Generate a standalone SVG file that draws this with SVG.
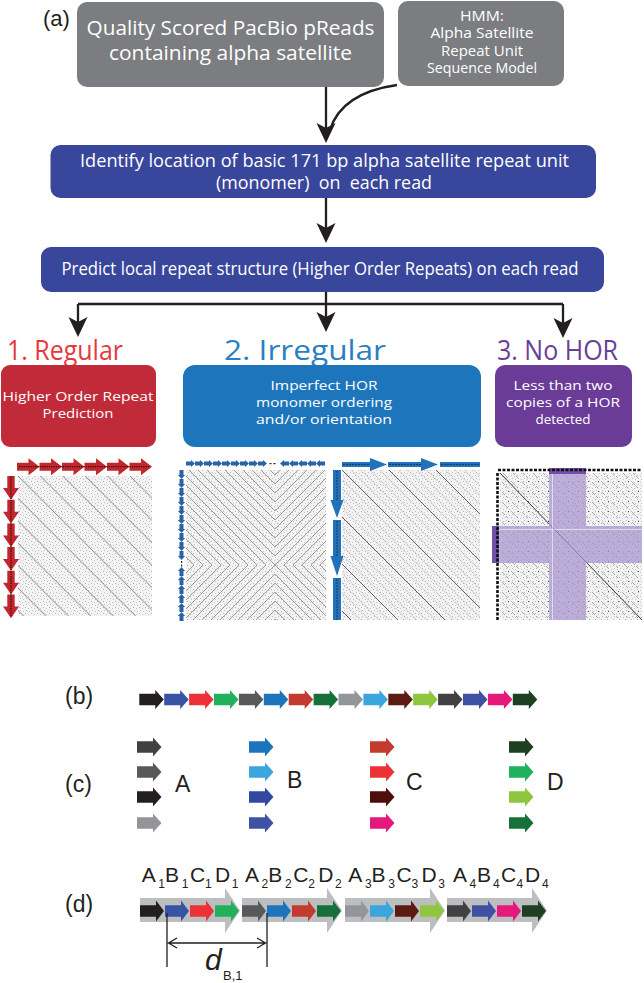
<svg xmlns="http://www.w3.org/2000/svg" xmlns:xlink="http://www.w3.org/1999/xlink" width="644" height="983" viewBox="0 0 644 983">
<style>
.wt{font-family:"Open Sans","Noto Sans",sans-serif;fill:#fff;text-anchor:middle}
.bx{font-size:13.5px}
.ttl{font-family:"Open Sans","Noto Sans",sans-serif}
.lbl{font-family:"Liberation Sans",Arial,sans-serif;fill:#231f20}
.conn{stroke:#231f20;stroke-width:2.3;fill:none}
.head{fill:#231f20}
.dim{stroke:#231f20;stroke-width:1.3;fill:none}
</style>
<defs>
<path id="arr" d="M0,-5.8 H16 V-9.6 L24.5,0 L16,9.6 V5.8 H0 Z"/>
<path id="arrD" d="M0,-5.8 H16 V-10.5 L24,0 L16,10.5 V5.8 H0 Z"/>
<path id="rArrH" d="M0,-4 H11.5 V-8.5 L22.5,0 L11.5,8.5 V4 H0 Z"/>
<path id="rArrV" d="M-3.7,0 V12 H-8 L0,23.7 L8,12 H3.7 V0 Z"/>
<path id="sArrR" d="M0,-2 H5 V-3.6 L9,0 L5,3.6 V2 H0 Z"/>
<path id="sArrL" d="M9,-2 H4 V-3.6 L0,0 L4,3.6 V2 H9 Z"/>
<path id="sArrD" d="M-2,0 V5 H-3.6 L0,9 L3.6,5 H2 V0 Z"/>
<path id="sArrU" d="M-2,9 V4 H-3.6 L0,0 L3.6,4 H2 V9 Z"/>
<pattern id="noise" width="6" height="6" patternUnits="userSpaceOnUse">
<rect width="6" height="6" fill="#f3f3f3"/>
<rect x="1" y="1" width="1" height="1" fill="#b3b3b3"/>
<rect x="4" y="2" width="1" height="1" fill="#c6c6c6"/>
<rect x="2" y="4" width="1" height="1" fill="#bdbdbd"/>
<rect x="5" y="5" width="1" height="1" fill="#c2c2c2"/>
</pattern>
<pattern id="diagR" x="18" y="476" width="22.4" height="22.4" patternUnits="userSpaceOnUse">
<path d="M-1,-1 L23.4,23.4" stroke="#6e6e6e" stroke-width="0.8"/>
</pattern>
<pattern id="diagP9" x="275" y="565" width="9" height="9" patternUnits="userSpaceOnUse">
<path d="M-1,-1 L10,10" stroke="#7a7a7a" stroke-width="0.7"/>
</pattern>
<pattern id="diagN9" x="275" y="565" width="9" height="9" patternUnits="userSpaceOnUse">
<path d="M-1,10 L10,-1" stroke="#7a7a7a" stroke-width="0.7"/>
</pattern>
<pattern id="diagB" x="342" y="470" width="47" height="47" patternUnits="userSpaceOnUse">
<g stroke="#9a9a9a" stroke-width="0.6" stroke-dasharray="2 1">
<path d="M9.4,0 L47,37.6 M0,37.6 L9.4,47"/>
<path d="M18.8,0 L47,28.2 M0,28.2 L18.8,47"/>
<path d="M28.2,0 L47,18.8 M0,18.8 L28.2,47"/>
<path d="M37.6,0 L47,9.4 M0,9.4 L37.6,47"/>
</g>
<path d="M-1,-1 L48,48" stroke="#505050" stroke-width="0.9"/>
</pattern>
<pattern id="dashP" width="10" height="10" patternUnits="userSpaceOnUse">
<path d="M2,2 L5,5 M6,6 L8,8" stroke="#8a8a8a" stroke-width="0.7"/>
<rect x="8" y="1" width="1" height="1" fill="#555"/>
</pattern>
</defs>

<!-- Panel labels -->
<text class="lbl" x="43" y="26" font-size="22">(a)</text>
<text class="lbl" x="65" y="704" font-size="23">(b)</text>
<text class="lbl" x="65" y="792" font-size="23">(c)</text>
<text class="lbl" x="65" y="912" font-size="23">(d)</text>

<!-- Flowchart nodes -->
<g id="box-input">
<rect x="77" y="2" width="307" height="85" rx="10" fill="#7b7d80"/>
<text class="wt" x="230.5" y="34.5" font-size="19.5" textLength="288" lengthAdjust="spacingAndGlyphs">Quality Scored PacBio pReads</text>
<text class="wt" x="230.5" y="59.5" font-size="19.5" textLength="243" lengthAdjust="spacingAndGlyphs">containing alpha satellite</text>
</g>
<g id="box-hmm">
<rect x="398" y="1" width="166" height="85" rx="10" fill="#7b7d80"/>
<text class="wt" x="482" y="20.7" font-size="14.5" textLength="44" lengthAdjust="spacingAndGlyphs">HMM:</text>
<text class="wt" x="482" y="38.3" font-size="14.5" textLength="103" lengthAdjust="spacingAndGlyphs">Alpha Satellite</text>
<text class="wt" x="482" y="55.7" font-size="14.5" textLength="82" lengthAdjust="spacingAndGlyphs">Repeat Unit</text>
<text class="wt" x="482" y="73.3" font-size="14.5" textLength="110" lengthAdjust="spacingAndGlyphs">Sequence Model</text>
</g>
<g id="box-identify">
<rect x="50.5" y="145" width="545.5" height="53" rx="10" fill="#38469c"/>
<text class="wt" x="324.5" y="167" font-size="17.5" textLength="489" lengthAdjust="spacingAndGlyphs">Identify location of basic 171 bp alpha satellite repeat unit</text>
<text class="wt" x="324" y="189" font-size="17.5" textLength="216" lengthAdjust="spacingAndGlyphs" xml:space="preserve">(monomer)  on  each read</text>
</g>
<g id="box-predict">
<rect x="41" y="247" width="563" height="45" rx="10" fill="#38469c"/>
<text class="wt" x="320" y="275" font-size="18" textLength="517" lengthAdjust="spacingAndGlyphs">Predict local repeat structure (Higher Order Repeats) on each read</text>
</g>

<g id="cat-regular">
<text class="ttl" x="7" y="360" font-size="27" fill="#e6383e" textLength="116" lengthAdjust="spacingAndGlyphs">1. Regular</text>
<rect x="1" y="365" width="155" height="82" rx="9" fill="#c12a38"/>
<text class="wt bx" x="78" y="401" textLength="151" lengthAdjust="spacingAndGlyphs">Higher Order Repeat</text>
<text class="wt bx" x="78" y="418" textLength="71" lengthAdjust="spacingAndGlyphs">Prediction</text>
</g>
<g id="cat-irregular">
<text class="ttl" x="224" y="360" font-size="27" fill="#2b7ec1" textLength="162" lengthAdjust="spacingAndGlyphs">2. Irregular</text>
<rect x="183" y="365" width="298" height="82" rx="12" fill="#1d75bb"/>
<text class="wt bx" x="324" y="390" textLength="107" lengthAdjust="spacingAndGlyphs">Imperfect HOR</text>
<text class="wt bx" x="324" y="407" textLength="136" lengthAdjust="spacingAndGlyphs">monomer ordering</text>
<text class="wt bx" x="324" y="424" textLength="136" lengthAdjust="spacingAndGlyphs">and/or orientation</text>
</g>
<g id="cat-nohor">
<text class="ttl" x="497" y="360" font-size="27" fill="#6a3f98" textLength="121" lengthAdjust="spacingAndGlyphs">3. No HOR</text>
<rect x="495" y="365" width="137" height="82" rx="10" fill="#6a3c98"/>
<text class="wt bx" x="563" y="390" textLength="99" lengthAdjust="spacingAndGlyphs">Less than two</text>
<text class="wt bx" x="563" y="407" textLength="114" lengthAdjust="spacingAndGlyphs">copies of a HOR</text>
<text class="wt bx" x="563" y="424" textLength="55" lengthAdjust="spacingAndGlyphs">detected</text>
</g>

<!-- Connectors -->
<g id="connectors">
<path class="conn" d="M326,87 V136"/>
<path class="conn" d="M397,85 C362,90 338,104 330,130"/>
<path class="head" d="M326,143 L316.5,123 L326,128 L335.5,123 Z"/>
<path class="conn" d="M326,198 V236"/>
<path class="head" d="M326,243 L316.5,223 L326,228 L335.5,223 Z"/>
<path class="conn" d="M326,292 V326 M78,304 H563 M78,304 V331 M563,304 V332"/>
<path class="head" d="M78,337 L68.5,317 L78,322 L87.5,317 Z"/>
<path class="head" d="M326,332 L316.5,312 L326,317 L335.5,312 Z"/>
<path class="head" d="M563,338 L553.5,318 L563,323 L572.5,318 Z"/>
</g>

<!-- Dot plot: regular -->
<g id="plot-regular">
<rect x="18" y="476" width="134" height="140" fill="url(#noise)"/>
<rect x="18" y="476" width="134" height="140" fill="url(#diagR)"/>
<g fill="#c1272d">
<use href="#rArrH" x="17" y="466.7"/><use href="#rArrH" x="39.5" y="466.7"/><use href="#rArrH" x="62" y="466.7"/>
<use href="#rArrH" x="84.5" y="466.7"/><use href="#rArrH" x="107" y="466.7"/><use href="#rArrH" x="129.5" y="466.7"/>
<use href="#rArrV" x="11" y="476"/><use href="#rArrV" x="11" y="499.7"/><use href="#rArrV" x="11" y="523.4"/>
<use href="#rArrV" x="11" y="547.1"/><use href="#rArrV" x="11" y="570.8"/><use href="#rArrV" x="11" y="594.5"/>
</g>
<path d="M19,466.7 H150 M11,477 V616" stroke="#3b0d10" stroke-width="1.2" stroke-dasharray="1.3 1"/>
</g>

<!-- Dot plot: irregular 1 -->
<g id="plot-irregular-1">
<rect x="186" y="470" width="140" height="150" fill="url(#noise)"/>
<rect x="186" y="470" width="89" height="95" fill="url(#diagP9)"/>
<rect x="275" y="470" width="51" height="95" fill="url(#diagN9)"/>
<rect x="186" y="565" width="89" height="55" fill="url(#diagN9)"/>
<rect x="275" y="565" width="51" height="55" fill="url(#diagP9)"/>
<g fill="#2a62a6">
<use href="#sArrR" x="186" y="463.5"/><use href="#sArrR" x="195" y="463.5"/><use href="#sArrR" x="204" y="463.5"/>
<use href="#sArrR" x="213" y="463.5"/><use href="#sArrR" x="222" y="463.5"/><use href="#sArrR" x="231" y="463.5"/>
<use href="#sArrR" x="240" y="463.5"/><use href="#sArrR" x="249" y="463.5"/><use href="#sArrR" x="258" y="463.5"/>
<use href="#sArrL" x="280" y="463.5"/><use href="#sArrL" x="289" y="463.5"/><use href="#sArrL" x="298" y="463.5"/>
<use href="#sArrL" x="307" y="463.5"/><use href="#sArrL" x="316" y="463.5"/>
<use href="#sArrD" x="181.5" y="470"/><use href="#sArrD" x="181.5" y="479"/><use href="#sArrD" x="181.5" y="488"/>
<use href="#sArrD" x="181.5" y="497"/><use href="#sArrD" x="181.5" y="506"/><use href="#sArrD" x="181.5" y="515"/>
<use href="#sArrD" x="181.5" y="524"/><use href="#sArrD" x="181.5" y="533"/><use href="#sArrD" x="181.5" y="542"/>
<use href="#sArrD" x="181.5" y="551"/>
<use href="#sArrU" x="181.5" y="567"/><use href="#sArrU" x="181.5" y="576"/><use href="#sArrU" x="181.5" y="585"/>
<use href="#sArrU" x="181.5" y="594"/><use href="#sArrU" x="181.5" y="603"/><use href="#sArrU" x="181.5" y="612"/>
</g>
<g fill="#222">
<rect x="269.5" y="463" width="2" height="1.2"/><rect x="273.5" y="463" width="2" height="1.2"/>
<rect x="181" y="561" width="1.2" height="2"/><rect x="181" y="564.5" width="1.2" height="2"/>
</g>
</g>

<!-- Dot plot: irregular 2 -->
<g id="plot-irregular-2">
<rect x="342" y="470" width="138" height="150" fill="url(#noise)"/>
<rect x="342" y="470" width="138" height="150" fill="url(#diagB)"/>
<g fill="#2272b9">
<path d="M342,462 H370 V458 L387,464.5 L370,471 V467 H342 Z"/>
<path d="M388,462 H421 V458 L438,464.5 L421,471 V467 H388 Z"/>
<rect x="440" y="462" width="40" height="5"/>
<path d="M333,470 V500 H330.5 L337,518 L343.5,500 H341 V470 Z"/>
<path d="M333,520 V556 H330.5 L337,576 L343.5,556 H341 V520 Z"/>
<rect x="333" y="578" width="8" height="42"/>
</g>
<path d="M343,464.5 H370 M389,464.5 H421 M441,464.5 H480 M337,471 V500 M337,521 V556 M337,579 V620" stroke="#123a66" stroke-width="1" stroke-dasharray="2 1"/>
</g>

<!-- Dot plot: no HOR -->
<g id="plot-nohor">
<rect x="500" y="473" width="142" height="147" fill="url(#noise)"/>
<rect x="500" y="473" width="142" height="147" fill="url(#dashP)"/>
<path d="M500,473 L642,620" stroke="#333" stroke-width="1"/>
<g opacity="0.72" fill="#a894d0">
<rect x="549" y="468" width="37" height="152"/>
<rect x="492" y="526" width="150" height="37"/>
</g>
<rect x="549" y="468" width="37" height="6" fill="#7050a8"/>
<rect x="492" y="526" width="7" height="37" fill="#7050a8"/>
<path d="M552.5,474 V620 M499,529.5 H642" stroke="#fff" stroke-width="0.8" opacity="0.7"/>
<path d="M498,470 H642 M497.5,473 V620" stroke="#111" stroke-width="2.6" stroke-dasharray="3 1.5"/>
</g>

<!-- (b) monomer row -->
<g id="row-b">
<use href="#arr" x="139.3" y="699.5" fill="#231f20"/>
<use href="#arr" x="164.2" y="699.5" fill="#3953a4"/>
<use href="#arr" x="189.1" y="699.5" fill="#ed3237"/>
<use href="#arr" x="214" y="699.5" fill="#21b05c"/>
<use href="#arr" x="238.9" y="699.5" fill="#58595b"/>
<use href="#arr" x="263.8" y="699.5" fill="#1c75bc"/>
<use href="#arr" x="288.7" y="699.5" fill="#c33b2e"/>
<use href="#arr" x="313.6" y="699.5" fill="#17703a"/>
<use href="#arr" x="338.5" y="699.5" fill="#939598"/>
<use href="#arr" x="363.4" y="699.5" fill="#3aa6dd"/>
<use href="#arr" x="388.3" y="699.5" fill="#5c1a12"/>
<use href="#arr" x="413.2" y="699.5" fill="#8dc63f"/>
<use href="#arr" x="438.1" y="699.5" fill="#414042"/>
<use href="#arr" x="463" y="699.5" fill="#3f51a3"/>
<use href="#arr" x="487.9" y="699.5" fill="#e5197b"/>
<use href="#arr" x="512.8" y="699.5" fill="#1d3f22"/>
</g>

<!-- (c) monomer groups -->
<g id="group-A">
<use href="#arr" x="137" y="747" fill="#414042"/>
<use href="#arr" x="137" y="772" fill="#58595b"/>
<use href="#arr" x="137" y="797" fill="#231f20"/>
<use href="#arr" x="137" y="823" fill="#939598"/>
<text class="lbl" x="175" y="792" font-size="23">A</text>
</g>
<g id="group-B">
<use href="#arr" x="249" y="747" fill="#1c75bc"/>
<use href="#arr" x="249" y="772" fill="#3aa6dd"/>
<use href="#arr" x="249" y="797" fill="#3349a0"/>
<use href="#arr" x="249" y="823" fill="#3f51a3"/>
<text class="lbl" x="287" y="788" font-size="23">B</text>
</g>
<g id="group-C">
<use href="#arr" x="370" y="747" fill="#c33b2e"/>
<use href="#arr" x="370" y="772" fill="#ed3237"/>
<use href="#arr" x="370" y="797" fill="#4e0f0a"/>
<use href="#arr" x="370" y="823" fill="#e5197b"/>
<text class="lbl" x="406" y="790" font-size="23">C</text>
</g>
<g id="group-D">
<use href="#arr" x="509" y="747" fill="#1d3f22"/>
<use href="#arr" x="509" y="772" fill="#21b05c"/>
<use href="#arr" x="509" y="797" fill="#8dc63f"/>
<use href="#arr" x="509" y="823" fill="#17703a"/>
<text class="lbl" x="547" y="790" font-size="23">D</text>
</g>

<!-- (d) HOR copies -->
<g id="hor-1">
<path d="M140,898 H225 V888 L240,910.5 L225,933 V922 H140 Z" fill="#bcbec0"/>
<use href="#arrD" x="140" y="911" fill="#231f20"/>
<use href="#arrD" x="165" y="911" fill="#3953a4"/>
<use href="#arrD" x="190" y="911" fill="#ed3237"/>
<use href="#arrD" x="215" y="911" fill="#21b05c"/>
<text class="lbl" font-size="21"><tspan x="141.7" y="882">A</tspan><tspan x="158.3" y="888" font-size="12">1</tspan><tspan x="165" y="882">B</tspan><tspan x="181.7" y="888" font-size="12">1</tspan><tspan x="190" y="882">C</tspan><tspan x="205" y="888" font-size="12">1</tspan><tspan x="215" y="882">D</tspan><tspan x="231.7" y="888" font-size="12">1</tspan></text>
</g>
<g id="hor-2">
<path d="M242,898 H327 V888 L342,910.5 L327,933 V922 H242 Z" fill="#bcbec0"/>
<use href="#arrD" x="242" y="911" fill="#58595b"/>
<use href="#arrD" x="267" y="911" fill="#1c75bc"/>
<use href="#arrD" x="292" y="911" fill="#c33b2e"/>
<use href="#arrD" x="317" y="911" fill="#17703a"/>
<text class="lbl" font-size="21"><tspan x="245" y="882">A</tspan><tspan x="261.6" y="888" font-size="12">2</tspan><tspan x="268.3" y="882">B</tspan><tspan x="285" y="888" font-size="12">2</tspan><tspan x="293.3" y="882">C</tspan><tspan x="308.3" y="888" font-size="12">2</tspan><tspan x="318.3" y="882">D</tspan><tspan x="335" y="888" font-size="12">2</tspan></text>
</g>
<g id="hor-3">
<path d="M345,898 H430 V888 L445,910.5 L430,933 V922 H345 Z" fill="#bcbec0"/>
<use href="#arrD" x="345" y="911" fill="#939598"/>
<use href="#arrD" x="370" y="911" fill="#3aa6dd"/>
<use href="#arrD" x="395" y="911" fill="#5c1a12"/>
<use href="#arrD" x="420" y="911" fill="#8dc63f"/>
<text class="lbl" font-size="21"><tspan x="348.3" y="882">A</tspan><tspan x="364.9" y="888" font-size="12">3</tspan><tspan x="371.6" y="882">B</tspan><tspan x="388.3" y="888" font-size="12">3</tspan><tspan x="396.6" y="882">C</tspan><tspan x="411.6" y="888" font-size="12">3</tspan><tspan x="421.6" y="882">D</tspan><tspan x="438.3" y="888" font-size="12">3</tspan></text>
</g>
<g id="hor-4">
<path d="M447,898 H532 V888 L547,910.5 L532,933 V922 H447 Z" fill="#bcbec0"/>
<use href="#arrD" x="447" y="911" fill="#414042"/>
<use href="#arrD" x="472" y="911" fill="#3f51a3"/>
<use href="#arrD" x="497" y="911" fill="#e5197b"/>
<use href="#arrD" x="522" y="911" fill="#1d3f22"/>
<text class="lbl" font-size="21"><tspan x="453" y="882">A</tspan><tspan x="469.5" y="888" font-size="12">4</tspan><tspan x="477" y="882">B</tspan><tspan x="493" y="888" font-size="12">4</tspan><tspan x="501" y="882">C</tspan><tspan x="516.5" y="888" font-size="12">4</tspan><tspan x="525" y="882">D</tspan><tspan x="542" y="888" font-size="12">4</tspan></text>
</g>

<!-- distance annotation -->
<g id="distance">
<path class="dim" d="M167,913 V967 M267,913 V967 M169,943 H265 M177,938 L168.5,943 L177,948 M257,938 L265.5,943 L257,948"/>
<text class="lbl" x="205" y="970" font-size="30" font-style="italic">d</text>
<text class="lbl" x="223" y="980" font-size="13">B,1</text>
</g>
</svg>
